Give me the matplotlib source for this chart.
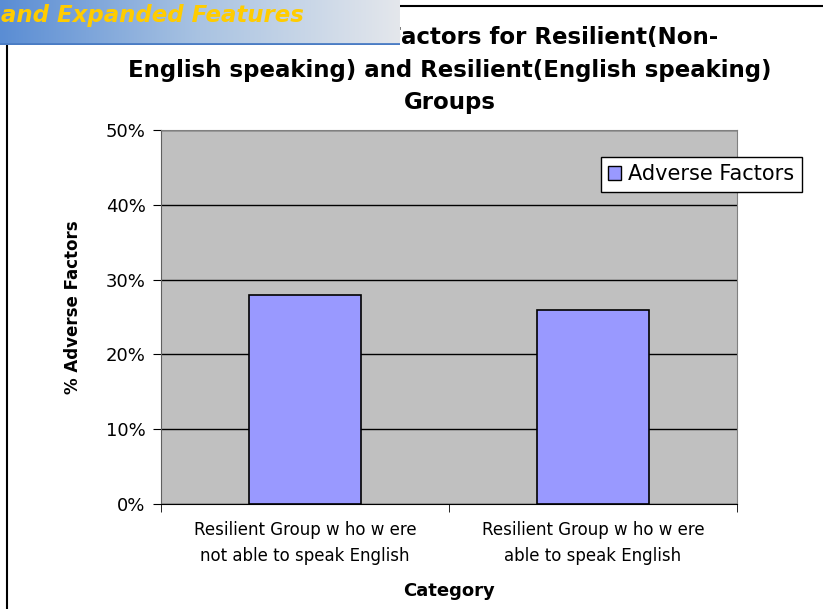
import numpy as np
import matplotlib.pyplot as plt
from matplotlib.patches import Patch
from matplotlib.lines import Line2D
from matplotlib.colors import LinearSegmentedColormap

plt.rcParams['font.family'] = ['DejaVu Sans']

categories = ['Resilient Group w ho w ere\nnot able to speak English',
              'Resilient Group w ho w ere\nable to speak English']
adverse = [28, 26]
yticks = [0, 10, 20, 30, 40, 50]
title_lines = ['Rate of Adverse Factors for Resilient(Non-',
               'English speaking) and Resilient(English speaking)',
               'Groups']

fig = plt.figure(figsize=(8.23, 6.09), dpi=100)
ax = fig.add_axes([161/823, 1-504/609, 576/823, 374/609])
ax.set_facecolor('#C0C0C0')

x = np.arange(len(categories))
ax.bar(x, adverse, width=0.39, color='#9999FF', edgecolor='black', linewidth=1.2, zorder=3)

ax.set_ylim(0, 50)
ax.set_xlim(-0.5, len(categories) - 0.5)
ax.set_yticks(yticks)
ax.set_yticklabels([f'{v}%' for v in yticks], fontsize=13)
ax.yaxis.grid(True, color='black', linewidth=1, zorder=1)
ax.set_axisbelow(True)

ax.set_xticks(x)
ax.set_xticklabels(categories, fontsize=12, linespacing=1.6)
ax.tick_params(axis='x', length=0, pad=12)
ax.set_xticks(np.arange(-0.5, len(categories)), minor=True)
ax.tick_params(axis='x', which='minor', length=6, direction='out')
ax.tick_params(axis='y', length=6, direction='out', pad=5)

for s in ['top', 'right']:
    ax.spines[s].set_color('#808080')
ax.spines['left'].set_color('#606060')
ax.spines['bottom'].set_color('black')

ax.set_ylabel('% Adverse Factors', fontsize=12, fontweight='bold')
ax.yaxis.set_label_coords(-0.137, 0.527)
ax.set_xlabel('Category', fontsize=13, fontweight='bold', labelpad=12)

# title, first line partly hidden under the slide banner
fig.text(718/823, 1-44/609, title_lines[0], ha='right', va='baseline',
         fontsize=16.5, fontweight='bold')
fig.text(450/823, 1-71/609, title_lines[1], ha='center', va='center',
         fontsize=16.5, fontweight='bold')
fig.text(450/823, 1-103/609, title_lines[2], ha='center', va='center',
         fontsize=16.5, fontweight='bold')

handles = [Patch(facecolor='#9999FF', edgecolor='black', label='Adverse Factors')]
fig.legend(handles=handles, loc='upper left', bbox_to_anchor=(601/823, 1-157/609),
           borderaxespad=0, fontsize=15, fancybox=False, edgecolor='black',
           framealpha=1, handlelength=0.6, handleheight=0.6, handletextpad=0.35,
           borderpad=0.35)

# slide frame lines
fig.add_artist(Line2D([400/823, 1], [1-6/609, 1-6/609], color='black', lw=1.5))
fig.add_artist(Line2D([7/823, 7/823], [0, 1-45/609], color='black', lw=1.5))

# header banner overlapping the chart
bax = fig.add_axes([0, 1-45/609, 400/823, 45/609], zorder=10)
grad = np.linspace(0, 1, 256).reshape(1, -1)
cmap = LinearSegmentedColormap.from_list('banner', ['#5A8DD4', '#A9C3E2', '#E4E7EC'])
bax.imshow(grad, aspect='auto', cmap=cmap, extent=[0, 1, 0, 1])
bax.axhline(0.03, color='#4A7CC4', lw=2)
bax.set_xlim(0, 1)
bax.set_ylim(0, 1)
bax.axis('off')
bax.text(0.003, 0.66, 'and Expanded Features', ha='left', va='center', fontsize=16.5,
         fontweight='bold', fontstyle='italic', color='#FFCC00')

fig.savefig('out.png', dpi=100)
